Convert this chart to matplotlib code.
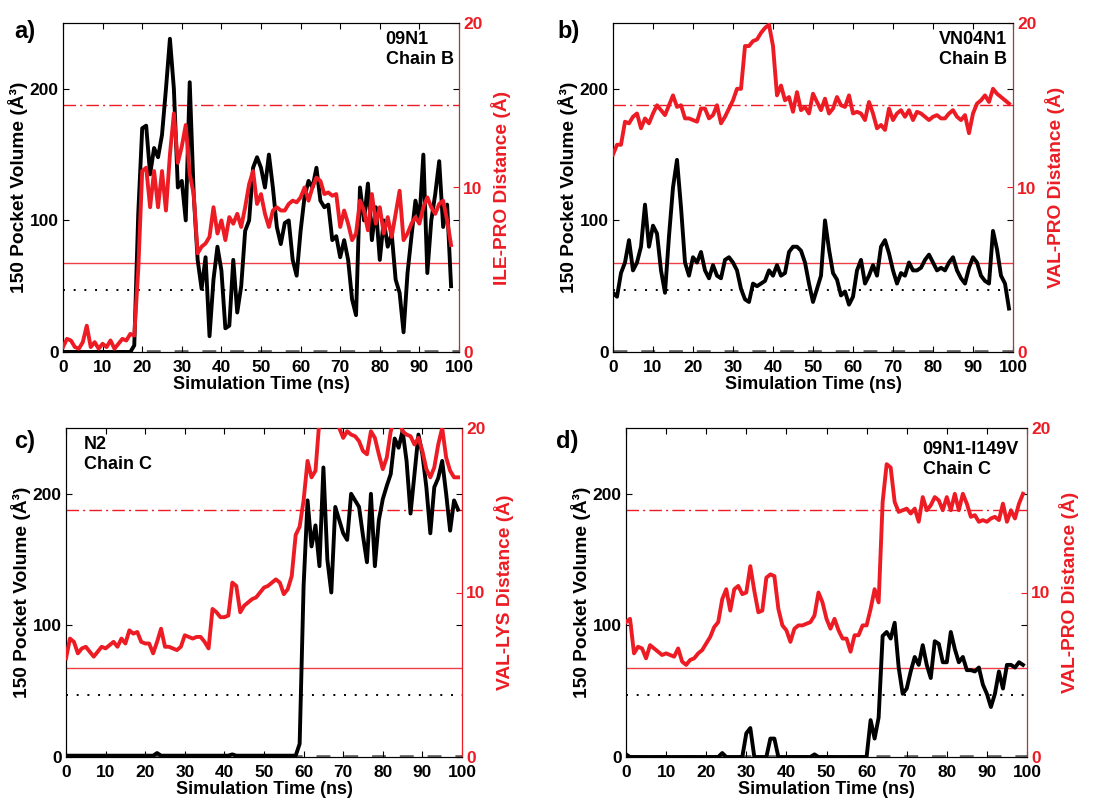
import matplotlib
matplotlib.use('Agg')
import matplotlib.pyplot as plt

plt.rcParams['font.family'] = ['Liberation Sans', 'DejaVu Sans']
plt.rcParams['font.weight'] = 'bold'
plt.rcParams['axes.labelweight'] = 'bold'

RED = '#ED1C24'

# ---------------- data ----------------
# Panel a: 09N1 Chain B (ILE-PRO)
vol_a = [0, 0, 0, 0, 0, 0, 0, 0, 0, 0,
         0, 0, 0, 0, 0, 0, 0, 0, 5, 105,
         170, 172, 135, 155, 148, 165, 200, 238, 200, 125,
         130, 100, 205, 120, 70, 48, 72, 12, 55, 80,
         62, 18, 20, 70, 30, 50, 92, 100, 140, 148,
         140, 125, 150, 125, 95, 82, 98, 100, 70, 58,
         92, 118, 130, 125, 140, 115, 110, 112, 85, 88,
         72, 85, 70, 40, 28, 125, 100, 128, 85, 110,
         70, 100, 80, 90, 55, 45, 15, 60, 88, 115,
         100, 150, 60, 100, 120, 145, 95, 112, 50]
dist_a = [0.3, 0.8, 0.7, 0.3, 0.2, 0.6, 1.6, 0.3, 0.6, 0.2,
          0.5, 0.3, 0.7, 0.2, 0.5, 0.8, 0.7, 1.1, 1.0, 5.0,
          11.0, 11.2, 8.8, 11.0, 8.8, 11.0, 8.6, 12.0, 14.5, 11.5,
          12.5, 13.8, 10.8, 9.6, 6.0, 6.4, 6.6, 7.0, 8.8, 7.2,
          8.0, 6.8, 8.2, 7.8, 8.4, 7.6, 8.8, 10.2, 11.0, 9.0,
          9.6, 8.4, 7.6, 8.6, 8.8, 8.6, 8.6, 9.0, 9.2, 9.1,
          9.4, 10.0, 9.2, 10.0, 10.6, 10.4, 9.6, 9.7, 9.5, 9.6,
          7.6, 8.6, 7.8, 6.8, 7.2, 9.2, 8.6, 7.4, 9.6, 7.8,
          8.8, 7.2, 8.2, 7.0, 8.4, 9.8, 6.8, 7.2, 7.8, 8.2,
          7.8, 8.8, 9.4, 8.8, 8.4, 9.0, 9.2, 8.0, 6.5]

# Panel b: VN04N1 Chain B (VAL-PRO)
vol_b = [45, 42, 60, 68, 85, 62, 68, 80, 112, 80,
         96, 90, 62, 45, 88, 125, 146, 110, 68, 58,
         72, 68, 76, 62, 56, 66, 58, 56, 70, 72,
         68, 62, 48, 40, 38, 52, 50, 52, 54, 62,
         58, 66, 58, 60, 76, 80, 80, 77, 68, 52,
         38, 48, 58, 100, 78, 60, 55, 43, 46, 36,
         42, 62, 70, 52, 58, 66, 58, 80, 85, 75,
         62, 52, 60, 58, 68, 62, 62, 64, 70, 74,
         68, 62, 64, 62, 68, 72, 62, 56, 52, 64,
         72, 68, 58, 54, 52, 92, 78, 58, 52, 33]
dist_b = [12.0, 12.6, 12.6, 14.0, 13.9, 14.3, 14.5, 13.6, 14.2, 13.9,
          14.5, 15.0, 14.7, 14.4, 15.0, 15.6, 14.9, 15.0, 14.2, 14.2,
          14.1, 14.0, 14.8, 14.8, 14.2, 14.4, 15.0, 13.9, 14.3, 14.8,
          15.3, 16.0, 16.0, 18.6, 18.6, 18.9, 19.0, 19.4, 19.7, 19.9,
          18.6, 15.6, 16.2, 15.3, 15.5, 14.6, 15.8, 14.7, 14.9, 14.5,
          15.7, 15.2, 14.7, 15.4, 14.5, 14.8, 15.5, 15.0, 14.9, 15.6,
          14.5, 14.6, 14.5, 14.1, 15.2, 14.5, 13.6, 13.8, 13.5, 14.8,
          14.1, 14.5, 14.7, 14.3, 14.7, 14.1, 14.6, 14.5, 14.3, 14.1,
          14.3, 14.4, 14.2, 14.2, 14.5, 14.7, 14.3, 14.1, 14.4, 13.3,
          14.5, 15.1, 15.3, 15.6, 15.2, 16.0, 15.7, 15.5, 15.3, 15.1]

# Panel c: N2 Chain C (VAL-LYS)
vol_c = [1, 1, 1, 1, 1, 1, 1, 1, 1, 1,
         1, 1, 1, 1, 1, 1, 1, 1, 1, 1,
         1, 1, 1, 3, 1, 1, 1, 1, 1, 1,
         1, 1, 1, 1, 1, 1, 1, 1, 1, 1,
         1, 1, 2, 1, 1, 1, 1, 1, 1, 1,
         1, 1, 1, 1, 1, 1, 1, 1, 1, 10,
         130, 195, 160, 176, 145, 220, 150, 125, 190, 180,
         170, 165, 200, 195, 190, 168, 148, 200, 145, 180,
         196, 206, 215, 242, 235, 248, 225, 185, 215, 245,
         230, 205, 170, 205, 212, 225, 200, 172, 195, 188]
dist_c = [6.0, 7.2, 7.0, 6.3, 6.6, 6.7, 6.4, 6.1, 6.4, 6.7,
          6.6, 6.8, 7.0, 6.7, 7.2, 6.9, 7.7, 7.5, 7.6, 7.0,
          6.9, 6.9, 6.3, 7.0, 7.8, 6.7, 6.7, 6.6, 6.5, 6.7,
          7.4, 7.3, 7.2, 7.3, 7.3, 7.0, 6.6, 9.0, 8.8, 8.5,
          8.5, 8.6, 10.6, 10.4, 8.8, 9.2, 9.4, 9.6, 9.7, 10.0,
          10.3, 10.4, 10.6, 10.8, 10.6, 9.9, 10.2, 11.0, 13.5, 14.0,
          15.6, 18.0, 17.0, 17.4, 20.5, 22.0, 22.0, 22.0, 21.0, 20.0,
          19.4, 19.8, 19.6, 19.5, 19.2, 18.6, 18.4, 19.8, 19.4, 18.4,
          17.5, 18.2, 19.8, 20.5, 20.5, 19.8, 19.6, 19.5, 19.0, 19.4,
          18.6, 17.5, 17.0, 17.6, 19.0, 20.0, 18.2, 17.4, 17.0, 17.0]

# Panel d: 09N1-I149V Chain C (VAL-PRO)
vol_d = [2, 0, 0, 0, 0, 0, 0, 0, 0, 0,
         0, 0, 0, 0, 0, 0, 0, 0, 0, 0,
         0, 0, 0, 0, 3, 0, 0, 0, 0, 0,
         18, 22, 0, 0, 0, 0, 14, 14, 0, 0,
         0, 0, 0, 0, 0, 0, 0, 2, 0, 0,
         0, 0, 0, 0, 0, 0, 0, 0, 0, 0,
         0, 28, 14, 30, 92, 95, 90, 102, 68, 48,
         52, 65, 76, 70, 85, 70, 60, 88, 86, 72,
         72, 95, 82, 72, 76, 66, 66, 65, 68, 55,
         48, 38, 48, 65, 52, 70, 70, 68, 72, 70]
dist_d = [8.2, 8.4, 6.3, 6.7, 6.6, 6.0, 6.8, 6.6, 6.4, 6.2,
          6.3, 6.2, 6.1, 6.6, 5.8, 5.6, 5.9, 6.0, 6.3, 6.5,
          6.9, 7.3, 7.9, 8.2, 9.6, 10.2, 8.9, 10.2, 10.4, 9.9,
          10.0, 11.6, 10.1, 8.8, 8.9, 10.9, 11.1, 11.0, 9.0, 8.0,
          7.7, 7.0, 7.8, 8.0, 8.0, 8.1, 8.2, 8.6, 10.0, 9.4,
          8.4, 7.8, 8.4, 7.7, 7.2, 7.2, 6.4, 7.4, 7.4, 8.0,
          8.0, 9.0, 10.2, 9.4, 15.5, 17.8, 17.6, 15.5, 14.9, 15.0,
          15.1, 14.8, 15.1, 14.3, 15.8, 15.0, 15.3, 15.8, 15.6, 15.0,
          15.8, 15.0, 16.0, 15.0, 16.0, 15.4, 14.6, 14.7, 14.3, 14.4,
          14.3, 14.5, 14.6, 14.4, 15.4, 14.3, 15.0, 14.5, 15.4, 16.0]

panel_letters = ['a)', 'b)', 'c)', 'd)']
system_names = ['09N1\nChain B', 'VN04N1\nChain B', 'N2\nChain C', '09N1-I149V\nChain C']
dist_labels = ['ILE-PRO Distance (Å)', 'VAL-PRO Distance (Å)',
               'VAL-LYS Distance (Å)', 'VAL-PRO Distance (Å)']
vols = [vol_a, vol_b, vol_c, vol_d]
dists = [dist_a, dist_b, dist_c, dist_d]

x_ticks = [0, 10, 20, 30, 40, 50, 60, 70, 80, 90, 100]
vol_ticks = [0, 100, 200]
dist_ticks = [0, 10, 20]
vol_max = 250
dist_max = 20

# reference levels
ref_dist_dashdot = 15.0   # Å
ref_dist_solid = 5.4      # Å
ref_vol_dotted = 47       # Å^3
ref_vol_dashed = 1        # Å^3

# ---------------- layout ----------------
W, H = 1094, 801
boxes = [(63, 23, 459, 352), (613, 23, 1013, 352),
         (66, 428, 462, 757), (626, 428, 1027, 757)]
name_pos = [(0.815, 0.975), (0.815, 0.975), (0.045, 0.975), (0.74, 0.96)]
letter_pos = [(14, 20), (557, 20), (14, 430), (556, 430)]

fig = plt.figure(figsize=(W / 100, H / 100), dpi=100)

for i in range(4):
    l, t, r, b = boxes[i]
    ax = fig.add_axes([l / W, 1 - b / H, (r - l) / W, (b - t) / H])
    ax2 = ax.twinx()
    time = list(range(len(vols[i])))

    ax.set_xlim(0, 100)
    ax.set_ylim(0, vol_max)
    ax2.set_ylim(0, dist_max)

    scale = vol_max / dist_max
    ax.axhline(ref_dist_dashdot * scale, color=RED, lw=1.0,
               linestyle=(0, (9, 3, 1.5, 3)), zorder=1)
    ax.axhline(ref_dist_solid * scale, color=RED, lw=1.0, alpha=0.85, zorder=1)
    ax.axhline(ref_vol_dotted, color='black', lw=1.4,
               linestyle=(0, (1.0, 4.5)), zorder=1)
    ax.axhline(ref_vol_dashed, color='#666666', lw=2.0,
               linestyle=(0, (5, 5)), zorder=1)

    ax.plot(time, vols[i], color='black', lw=2.8, solid_joinstyle='round', zorder=3)
    ax2.plot(time, dists[i], color=RED, lw=2.8, solid_joinstyle='round', zorder=3)

    ax.set_xticks(x_ticks)
    ax.set_yticks(vol_ticks)
    ax2.set_yticks(dist_ticks)
    ax.tick_params(direction='in', top=True, right=True, length=4, width=0.8,
                   labelsize=12.5, pad=3)
    ax.tick_params(axis='x', pad=5.5)
    ax2.tick_params(axis='y', direction='in', colors=RED, length=4, width=0.8,
                    labelsize=12.5, pad=3)
    ax2.spines['right'].set_color(RED)
    for sp in ax.spines.values():
        sp.set_linewidth(0.8)
    for sp in ax2.spines.values():
        sp.set_linewidth(0.8)

    ax.set_xlabel('Simulation Time (ns)', fontsize=13, labelpad=1)
    ax.set_ylabel('150 Pocket Volume (Å³)', fontsize=13.8, labelpad=1)
    ax2.set_ylabel(dist_labels[i], fontsize=13.8, color=RED, labelpad=6)

    ax.text(name_pos[i][0], name_pos[i][1], system_names[i], transform=ax.transAxes,
            ha='left', va='top', fontsize=13, fontweight='bold', linespacing=1.25,
            zorder=5)
    fig.text(letter_pos[i][0] / W, 1 - letter_pos[i][1] / H, panel_letters[i],
             ha='left', va='top', fontsize=17, fontweight='bold')

fig.savefig('out.png', dpi=100)
